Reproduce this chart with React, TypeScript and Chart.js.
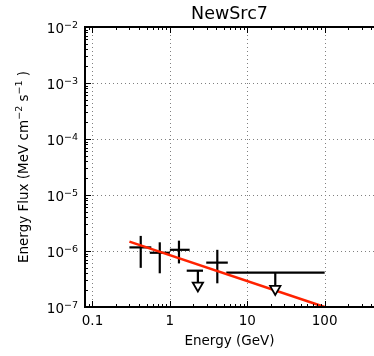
import React, { useEffect, useRef } from "react";
import { Chart, registerables } from "chart.js";

Chart.register(...registerables);

// ---- text ----
const TITLE = "NewSrc7";
const X_LABEL = "Energy (GeV)";

// ---- axes ----
const X_MIN = 0.08;
const X_MAX = 434;
const Y_MIN = 1e-7;
const Y_MAX = 1e-2;
const xTickValues = [0.1, 1, 10, 100];
const xTickLabels = ["0.1", "1", "10", "100"];
const yTickExponents = [-7, -6, -5, -4, -3, -2];

// ---- detected bins (GeV, MeV cm^-2 s^-1) ----
const detEnergy = [0.42, 0.74, 1.31, 4.1];
const detEnergyLo = [0.3, 0.55, 1.0, 2.95];
const detEnergyHi = [0.575, 1.0, 1.8, 5.6];
const detFlux = [1.16e-6, 9.3e-7, 1.05e-6, 6.2e-7];
const detFluxLo = [5.0e-7, 4.0e-7, 6.0e-7, 2.65e-7];
const detFluxHi = [1.86e-6, 1.43e-6, 1.53e-6, 1.05e-6];

// ---- upper limits ----
const ulEnergy = [2.3, 23];
const ulEnergyLo = [1.65, 5.35];
const ulEnergyHi = [2.68, 100];
const ulFlux = [4.45e-7, 4.1e-7];
const ulArrowTip = [2.42e-7, 2.1e-7];

// ---- model (power law) ----
const modelEnergy = [0.3, 100];
const modelFlux = [1.47e-6, 1.0e-7];

const FONT = '"DejaVu Sans", "Liberation Sans", sans-serif';

function mplPlugin() {
  return {
    id: "mplDecor",
    beforeDatasetsDraw(chart: any) {
      const { ctx, chartArea: a, scales } = chart;
      const x = scales.x;
      const y = scales.y;
      ctx.save();
      // grid
      ctx.strokeStyle = "#808080";
      ctx.lineWidth = 1;
      ctx.setLineDash([1, 3]);
      for (const v of xTickValues) {
        const px = Math.round(x.getPixelForValue(v)) + 0.5;
        ctx.beginPath();
        ctx.moveTo(px, a.top);
        ctx.lineTo(px, a.bottom);
        ctx.stroke();
      }
      for (const e of yTickExponents) {
        const py = Math.round(y.getPixelForValue(Math.pow(10, e))) + 0.5;
        ctx.beginPath();
        ctx.moveTo(a.left, py);
        ctx.lineTo(a.right, py);
        ctx.stroke();
      }
      ctx.setLineDash([]);
      // error bars
      ctx.strokeStyle = "#000";
      ctx.lineWidth = 2.2;
      const seg = (x1: number, y1: number, x2: number, y2: number) => {
        ctx.beginPath();
        ctx.moveTo(x1, y1);
        ctx.lineTo(x2, y2);
        ctx.stroke();
      };
      detEnergy.forEach((e, i) => {
        const py = y.getPixelForValue(detFlux[i]);
        seg(x.getPixelForValue(detEnergyLo[i]), py, x.getPixelForValue(detEnergyHi[i]), py);
        const px = x.getPixelForValue(e);
        seg(px, y.getPixelForValue(detFluxHi[i]), px, y.getPixelForValue(detFluxLo[i]));
      });
      ulEnergy.forEach((e, i) => {
        const py = y.getPixelForValue(ulFlux[i]);
        seg(x.getPixelForValue(ulEnergyLo[i]), py, x.getPixelForValue(ulEnergyHi[i]), py);
        const px = x.getPixelForValue(e);
        seg(px, py, px, y.getPixelForValue(ulArrowTip[i]));
      });
      ctx.restore();
    },
    afterDraw(chart: any) {
      const { ctx, chartArea: a, scales } = chart;
      const x = scales.x;
      const y = scales.y;
      ctx.save();
      // ticks (inside; right side lies at the cropped edge)
      ctx.strokeStyle = "#000";
      ctx.lineWidth = 1;
      const MAJ = 6;
      const MIN = 3;
      for (let k = -2; k <= 3; k++) {
        for (let m = 1; m <= 9; m++) {
          const v = m * Math.pow(10, k);
          if (v < X_MIN || v > X_MAX) continue;
          const px = Math.round(x.getPixelForValue(v)) + 0.5;
          const len = m === 1 ? MAJ : MIN;
          ctx.beginPath();
          ctx.moveTo(px, a.bottom);
          ctx.lineTo(px, a.bottom - len);
          ctx.moveTo(px, a.top);
          ctx.lineTo(px, a.top + len);
          ctx.stroke();
        }
      }
      for (let k = -7; k <= -2; k++) {
        for (let m = 1; m <= 9; m++) {
          const v = m * Math.pow(10, k);
          if (v < Y_MIN * 0.999 || v > Y_MAX * 1.001) continue;
          const py = Math.round(y.getPixelForValue(v)) + 0.5;
          const len = m === 1 ? MAJ : MIN;
          ctx.beginPath();
          ctx.moveTo(a.left, py);
          ctx.lineTo(a.left + len, py);
          ctx.stroke();
        }
      }
      // frame (left, top, bottom)
      ctx.lineWidth = 2;
      ctx.beginPath();
      ctx.moveTo(a.right + 2, a.top);
      ctx.lineTo(a.left, a.top);
      ctx.lineTo(a.left, a.bottom);
      ctx.lineTo(a.right + 2, a.bottom);
      ctx.stroke();

      ctx.fillStyle = "#000";
      ctx.textBaseline = "alphabetic";
      // x tick labels
      ctx.font = `13.5px ${FONT}`;
      ctx.textAlign = "center";
      xTickValues.forEach((v, i) => {
        ctx.fillText(xTickLabels[i], x.getPixelForValue(v), 324.5);
      });
      // y tick labels 10^e
      ctx.textAlign = "left";
      for (const e of yTickExponents) {
        const py = y.getPixelForValue(Math.pow(10, e));
        const base = "10";
        const sup = "\u2212" + Math.abs(e);
        ctx.font = `13.5px ${FONT}`;
        const w1 = ctx.measureText(base).width;
        ctx.font = `9.5px ${FONT}`;
        const w2 = ctx.measureText(sup).width;
        const x0 = a.left - 7 - (w1 + w2);
        ctx.font = `13.5px ${FONT}`;
        ctx.fillText(base, x0, py + 6.3);
        ctx.font = `9.5px ${FONT}`;
        ctx.fillText(sup, x0 + w1, py + 0.5);
      }
      // x label
      ctx.font = `13.5px ${FONT}`;
      ctx.textAlign = "center";
      ctx.fillText(X_LABEL, (a.left + a.right) / 2, 344.5);
      // title
      ctx.font = `17.5px ${FONT}`;
      ctx.fillText(TITLE, (a.left + a.right) / 2, 18.5);
      // y label (rotated, with superscripts)
      const parts: [string, boolean][] = [
        ["Energy Flux (MeV cm", false],
        ["\u22122", true],
        [" s", false],
        ["\u22121", true],
        [" )", false],
      ];
      const widths = parts.map(([t, s]) => {
        ctx.font = s ? `9.5px ${FONT}` : `13.5px ${FONT}`;
        return ctx.measureText(t).width;
      });
      const total = widths.reduce((p, c) => p + c, 0);
      ctx.translate(27.5, (a.top + a.bottom) / 2);
      ctx.rotate(-Math.PI / 2);
      ctx.textAlign = "left";
      let cx = -total / 2;
      parts.forEach(([t, s], i) => {
        ctx.font = s ? `9.5px ${FONT}` : `13.5px ${FONT}`;
        ctx.fillText(t, cx, s ? -6 : 0);
        cx += widths[i];
      });
      ctx.restore();
    },
  };
}

export default function App() {
  const ref = useRef<HTMLCanvasElement | null>(null);
  useEffect(() => {
    if (!ref.current) return;
    const chart = new Chart(ref.current, {
      type: "scatter",
      data: {
        datasets: [
          {
            label: "upper limits",
            data: ulEnergy.map((e, i) => ({ x: e, y: ulArrowTip[i] })),
            pointStyle: "triangle",
            rotation: 180,
            pointRadius: 6,
            pointBorderWidth: 1.75,
            pointBackgroundColor: "#ffffff",
            pointBorderColor: "#000000",
            showLine: false,
          } as any,
          {
            label: "model",
            data: modelEnergy.map((e, i) => ({ x: e, y: modelFlux[i] })),
            showLine: true,
            borderColor: "#ff2200",
            borderWidth: 2.6,
            pointRadius: 0,
          } as any,
        ],
      },
      options: {
        animation: false,
        responsive: false,
        devicePixelRatio: 1,
        events: [],
        layout: { autoPadding: false, padding: { left: 85, top: 27, right: 0, bottom: 49 } },
        plugins: { legend: { display: false }, tooltip: { enabled: false }, title: { display: false } },
        scales: {
          x: { type: "logarithmic", min: X_MIN, max: X_MAX, display: false },
          y: { type: "logarithmic", min: Y_MIN, max: Y_MAX, display: false },
        },
      },
      plugins: [mplPlugin()],
    } as any);
    return () => chart.destroy();
  }, []);
  return (
    <div style={{ position: "fixed", left: 0, top: 0, width: 374, height: 356, background: "#fff", overflow: "hidden" }}>
      <canvas ref={ref} width={374} height={356} style={{ width: 374, height: 356, display: "block" }} />
    </div>
  );
}
